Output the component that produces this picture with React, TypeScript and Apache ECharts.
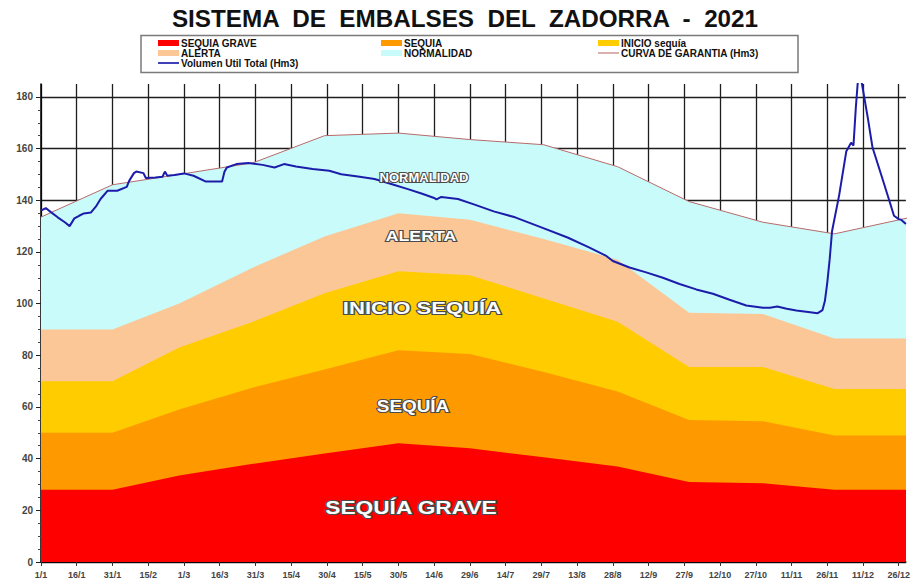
import React, { useEffect, useRef } from 'react';
import * as echarts from 'echarts';

// Knots (day of year, 0 = 1 Jan) for the threshold bands
const bandDays = [0, 30, 58, 89, 119, 150, 180, 211, 242, 272, 303, 333, 364];
const sequiaGrave = [28, 28, 33.5, 38, 42, 46, 44, 40.5, 37, 31, 30.5, 28, 28];
const sequia = [50, 50, 59, 67.5, 74.5, 82, 80.5, 73.5, 66, 55, 54.5, 49, 49];
const inicioSequia = [70, 70, 83, 93, 104, 112.5, 111, 102, 93, 75.5, 75.5, 67, 67];
const alerta = [90, 90, 100, 114, 126, 135, 132.5, 125, 117, 96.5, 96, 86.5, 86.5];
const garantia = [133.5, 146, 150, 154.5, 165, 166, 163.5, 161.5, 153, 139.5, 131.5, 127, 133.2];

// Volumen Util Total (Hm3)
const volDays = [0, 2, 4, 7, 10, 12, 14, 16, 18, 21, 23, 25, 28, 32, 36, 37, 39, 40, 43, 44, 48, 51, 52, 53, 56, 60, 64, 69, 72, 76, 77, 78, 82, 87, 93, 98, 102, 107, 114, 121, 126, 133, 140, 147, 154, 160, 165, 166, 168, 175, 182, 190, 199, 210, 221, 230, 237, 240, 247, 254, 261, 268, 275, 282, 289, 296, 303, 306, 309, 313, 317, 322, 326, 328, 329, 330, 331, 332, 335, 338, 340, 341, 342, 343, 344, 347, 349, 353, 356, 358, 360, 361, 363];
const volValues = [136, 137, 135.5, 133.4, 131.5, 130, 133, 134, 134.9, 135.3, 137.5, 140.5, 143.7, 143.7, 145.2, 147.5, 150.5, 151.1, 150.5, 148.6, 148.8, 149.1, 151.1, 149.5, 149.8, 150.4, 149.5, 147.3, 147.3, 147.3, 151, 152.7, 154, 154.4, 153.7, 152.7, 154, 153.1, 152.1, 151.4, 150.1, 149.2, 148.2, 146.3, 144.3, 142.5, 140.9, 140.3, 141.3, 140.5, 138.3, 135.7, 133.4, 129.5, 125.6, 121.8, 118.6, 116.5, 114, 112.1, 110, 107.6, 105.5, 103.8, 101.5, 99.3, 98.4, 98.4, 98.9, 98, 97.3, 96.8, 96.3, 97.5, 101, 108, 117, 128, 142, 159, 162.3, 161.2, 176, 188, 188, 172, 160.4, 148.8, 140, 134, 132.7, 132.5, 130.8];

const xTickLabels = ['1/1', '16/1', '31/1', '15/2', '1/3', '16/3', '31/3', '15/4', '30/4', '15/5', '30/5', '14/6', '29/6', '14/7', '29/7', '13/8', '28/8', '12/9', '27/9', '12/10', '27/10', '11/11', '26/11', '11/12', '26/12'];
const yTickValues = [0, 20, 40, 60, 80, 100, 120, 140, 160, 180];

const COLORS = {
  grave: '#ff0000',
  sequia: '#ff9900',
  inicio: '#ffcc00',
  alerta: '#fbc796',
  normal: '#c9fbfb',
  garantia: '#b86a6a',
  vol: '#1c1caa',
};

const FONT = '"Liberation Sans", Arial, sans-serif';

const zip = (xs: number[], ys: number[]) => xs.map((x, i) => [x, ys[i]]);

const bandSeries = (name: string, vals: number[], color: string) => ({
  name,
  type: 'line',
  data: zip(bandDays, vals),
  color,
  itemStyle: { color },
  lineStyle: { width: 0, color },
  areaStyle: { color, opacity: 1 },
  symbol: 'none',
  showSymbol: false,
  silent: true,
});

const bandLabel = (text: string, x: number, y: number, size: number, sx: number) => ({
  type: 'text',
  x,
  y,
  scaleX: sx,
  z: 100,
  style: {
    text,
    fill: '#ffffff',
    stroke: '#4a4a4a',
    lineWidth: 2.2,
    font: `bold ${size}px ${FONT}`,
    textAlign: 'center',
    textVerticalAlign: 'middle',
    shadowColor: 'rgba(0,0,0,0.35)',
    shadowOffsetX: 1,
    shadowOffsetY: 1,
    shadowBlur: 1,
  },
});

const legendCommon = {
  orient: 'vertical',
  itemWidth: 21,
  itemHeight: 6,
  itemGap: 0,
  padding: 0,
  selectedMode: false,
  symbolKeepAspect: true,
  textStyle: {
    fontFamily: FONT,
    fontSize: 10,
    fontWeight: 'bold',
    color: '#111',
    lineHeight: 10,
    padding: [0, 0, 0, -3],
  },
};

export default function App() {
  const ref = useRef<HTMLDivElement>(null);

  useEffect(() => {
    if (!ref.current) return;
    const chart = echarts.init(ref.current, undefined, { renderer: 'svg' });
    const option: any = {
      animation: false,
      backgroundColor: '#ffffff',
      grid: { left: 41, right: 3, top: 84, bottom: 23, containLabel: false },
      legend: [
        {
          ...legendCommon,
          left: 158,
          top: 38,
          data: [
            { name: 'SEQUIA GRAVE', icon: 'rect' },
            { name: 'ALERTA', icon: 'rect' },
            { name: 'Volumen Util Total (Hm3)', icon: 'path://M0,0H20V1.6H0Z' },
          ],
        },
        {
          ...legendCommon,
          left: 381,
          top: 38,
          data: [
            { name: 'SEQUIA', icon: 'rect' },
            { name: 'NORMALIDAD', icon: 'rect' },
          ],
        },
        {
          ...legendCommon,
          left: 598,
          top: 38,
          data: [
            { name: 'INICIO sequía', icon: 'rect' },
            { name: 'CURVA DE GARANTIA (Hm3)', icon: 'path://M0,0H20V1H0Z' },
          ],
        },
      ],
      xAxis: {
        type: 'value',
        min: 0,
        max: 363,
        interval: 15,
        axisLine: { show: true, onZero: false, lineStyle: { color: '#000', width: 1.5 } },
        axisTick: {
          show: true,
          length: 4,
          customValues: xTickLabels.map((_, i) => i * 15),
          lineStyle: { color: '#333', width: 1 },
        },
        axisLabel: {
          customValues: xTickLabels.map((_, i) => i * 15),
          formatter: (v: number) => xTickLabels[Math.round(v / 15)] ?? '',
          fontFamily: FONT,
          fontSize: 9,
          fontWeight: 'bold',
          color: '#444',
          margin: 8,
        },
        splitLine: { show: true, lineStyle: { color: '#1e1e1e', width: 1.3 } },
      },
      yAxis: {
        type: 'value',
        min: 0,
        max: 185,
        interval: 20,
        axisLine: { show: true, lineStyle: { color: '#000', width: 1.5 } },
        axisTick: {
          show: true,
          length: 5,
          customValues: yTickValues,
          lineStyle: { color: '#222', width: 1 },
        },
        minorTick: { show: true, splitNumber: 4, length: 3, lineStyle: { color: '#444', width: 1 } },
        axisLabel: {
          customValues: yTickValues,
          fontFamily: FONT,
          fontSize: 10,
          fontWeight: 'bold',
          color: '#444',
          margin: 8,
        },
        splitLine: { show: true, lineStyle: { color: '#1e1e1e', width: 1.3 } },
      },
      series: [
        bandSeries('NORMALIDAD', garantia, COLORS.normal),
        bandSeries('ALERTA', alerta, COLORS.alerta),
        bandSeries('INICIO sequía', inicioSequia, COLORS.inicio),
        bandSeries('SEQUIA', sequia, COLORS.sequia),
        bandSeries('SEQUIA GRAVE', sequiaGrave, COLORS.grave),
        {
          name: 'CURVA DE GARANTIA (Hm3)',
          type: 'line',
          data: zip(bandDays, garantia),
          color: COLORS.garantia,
          itemStyle: { color: COLORS.garantia },
          lineStyle: { width: 1, color: COLORS.garantia },
          symbol: 'none',
          showSymbol: false,
          silent: true,
        },
        {
          name: 'Volumen Util Total (Hm3)',
          type: 'line',
          data: zip(volDays, volValues),
          color: COLORS.vol,
          itemStyle: { color: COLORS.vol },
          lineStyle: { width: 2, color: COLORS.vol },
          symbol: 'none',
          showSymbol: false,
          silent: true,
        },
      ],
      graphic: [
        {
          type: 'text',
          x: 465,
          y: 19,
          scaleX: 1.01,
          style: {
            text: 'SISTEMA  DE  EMBALSES  DEL  ZADORRA  -  2021',
            fill: '#111',
            font: `bold 24px ${FONT}`,
            textAlign: 'center',
            textVerticalAlign: 'middle',
          },
        },
        {
          type: 'rect',
          shape: { x: 141, y: 35.5, width: 657, height: 37 },
          style: { fill: 'none', stroke: '#7a7a7a', lineWidth: 1.5 },
          z: -1,
        },
        bandLabel('NORMALIDAD', 424, 177, 13, 1.0),
        bandLabel('ALERTA', 421, 236, 15, 1.18),
        bandLabel('INICIO SEQUÍA', 422, 308, 17, 1.3),
        bandLabel('SEQUÍA', 413, 407, 16, 1.18),
        bandLabel('SEQUÍA GRAVE', 411, 507, 18, 1.26),
      ],
    };
    chart.setOption(option);
    return () => chart.dispose();
  }, []);

  return <div ref={ref} style={{ width: 913, height: 585, position: 'absolute', left: 0, top: 0 }} />;
}
